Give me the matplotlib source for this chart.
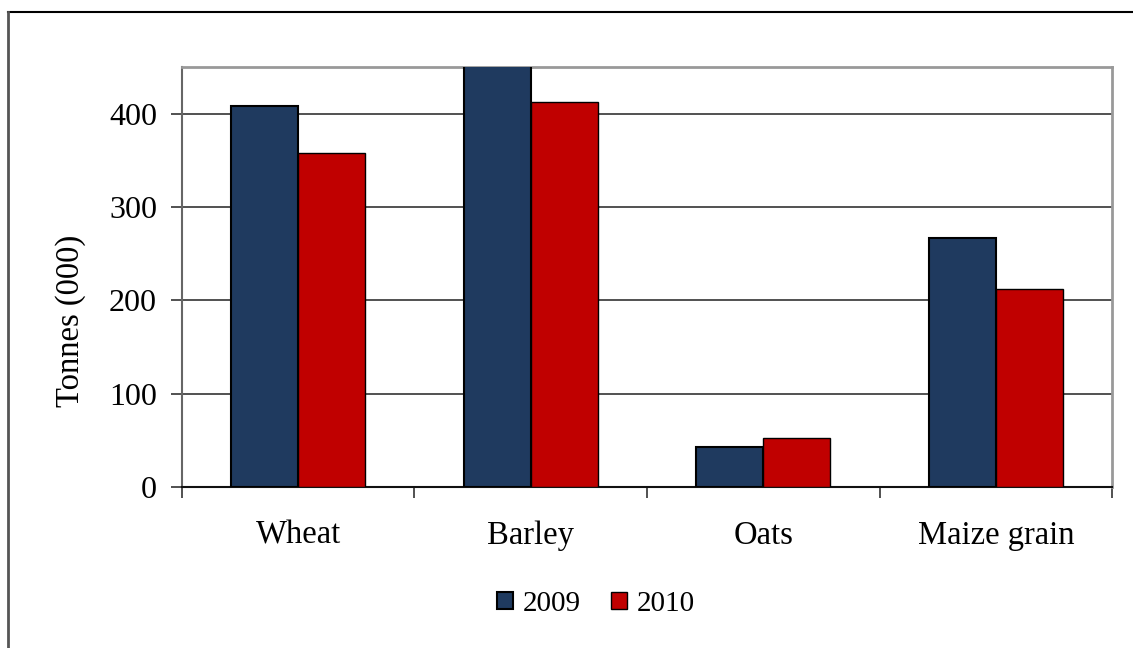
import numpy as np
import matplotlib
matplotlib.use("Agg")
from matplotlib import pyplot as plt
from matplotlib.lines import Line2D

crops = ["Wheat", "Barley", "Oats", "Maize grain"]
years = ["2009", "2010"]
vals_2009 = [408, 470, 43, 267]
vals_2010 = [358, 412, 53, 212]
y_ticks = [0, 100, 200, 300, 400]

navy = "#1f3a5f"
red = "#c00000"

plt.rcParams["font.family"] = ["Liberation Serif", "DejaVu Serif"]

fig = plt.figure(figsize=(11.33, 6.48), dpi=100)
ax = fig.add_axes([0.1606, 0.2485, 0.8209, 0.6481])

x = np.arange(len(crops))
w = 0.288
ax.bar(x - w / 2, vals_2009, w, color=navy, edgecolor="black", linewidth=1.5,
       label=years[0], zorder=3)
ax.bar(x + w / 2, vals_2010, w, color=red, edgecolor="black", linewidth=1.0,
       label=years[1], zorder=3)

ax.set_xlim(-0.5, len(crops) - 0.5)
ax.set_ylim(0, 450)
ax.set_yticks(y_ticks)
ax.yaxis.grid(True, color="#333333", linewidth=1.2, zorder=0)
ax.set_axisbelow(True)

# category boundaries get the ticks, names sit between
ax.set_xticks(np.arange(len(crops) + 1) - 0.5)
ax.set_xticklabels([])
ax.set_xticks(x, minor=True)
ax.set_xticklabels(crops, minor=True)
ax.tick_params(axis="x", which="major", direction="out", length=8, width=1.2,
               color="#333333")
ax.tick_params(axis="x", which="minor", length=0, pad=24, labelsize=23.5)
ax.tick_params(axis="y", direction="out", length=8, width=1.2, color="#333333",
               labelsize=23, pad=10)

ax.spines["top"].set_color("#999999")
ax.spines["right"].set_color("#999999")
ax.spines["top"].set_linewidth(2)
ax.spines["right"].set_linewidth(2)
ax.spines["left"].set_color("#666666")
ax.spines["left"].set_linewidth(1.5)
ax.spines["bottom"].set_color("#111111")
ax.spines["bottom"].set_linewidth(1.5)

ax.set_ylabel("Tonnes (000)", fontsize=23.5)
ax.yaxis.set_label_coords(-0.103, 0.395)

leg = fig.legend(loc="center", bbox_to_anchor=(0.526, 0.068), ncol=2,
                 frameon=False, fontsize=21, handlelength=0.55, handleheight=0.55,
                 handletextpad=0.35, columnspacing=1.0)

# outer chart border (top and left edges visible)
fig.add_artist(Line2D([0.007, 1.0], [0.981, 0.981], transform=fig.transFigure,
                      color="black", linewidth=1.5))
fig.add_artist(Line2D([0.007, 0.007], [0.0, 0.981], transform=fig.transFigure,
                      color="#555555", linewidth=2))

fig.savefig("out.png", dpi=100)
